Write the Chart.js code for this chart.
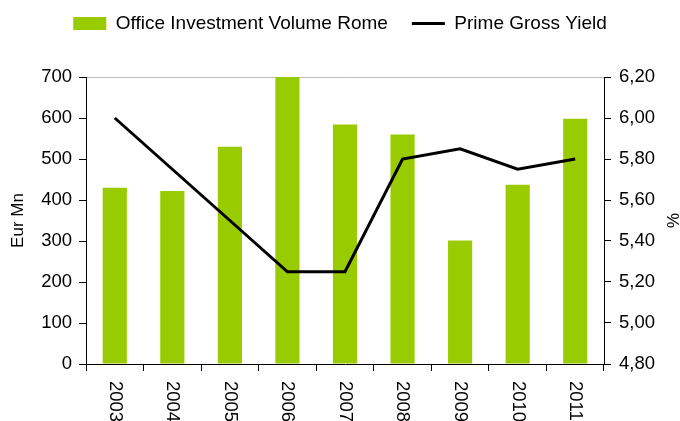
<!DOCTYPE html>
<html>
<head>
<meta charset="utf-8">
<script src="https://cdn.jsdelivr.net/npm/chart.js@4.4.1/dist/chart.umd.min.js"></script>
<style>
  html, body { margin: 0; padding: 0; background: #fff; }
  #wrap { width: 680px; height: 421px; }
</style>
</head>
<body>
<div id="wrap"><canvas id="myChart"></canvas></div>
<script>
const years = ["2003", "2004", "2005", "2006", "2007", "2008", "2009", "2010", "2011"];
const volume = [430, 422, 530, 700, 584, 560, 301, 437, 598];
const primeYield = [6.00, 5.75, 5.50, 5.25, 5.25, 5.80, 5.85, 5.75, 5.80];
const volumeTicks = [0, 100, 200, 300, 400, 500, 600, 700];
const yieldTicks = [4.8, 5.0, 5.2, 5.4, 5.6, 5.8, 6.0, 6.2];

const FONT = "'Liberation Sans', Arial, sans-serif";

// year labels hang below the axis, rotated to read top-down
const yearLabels = {
  id: "yearLabels",
  afterDraw(chart) {
    const ctx = chart.ctx;
    const xs = chart.scales.x;
    ctx.save();
    ctx.fillStyle = "#000";
    ctx.font = "18.5px " + FONT;
    ctx.textAlign = "left";
    ctx.textBaseline = "middle";
    years.forEach((label, i) => {
      ctx.save();
      ctx.translate(xs.getPixelForTick(i), chart.chartArea.bottom + 17);
      ctx.rotate(Math.PI / 2);
      ctx.fillText(label, 0, 0);
      ctx.restore();
    });
    ctx.restore();
  }
};

new Chart("myChart", {
  type: "bar",
  data: {
    labels: years,
    datasets: [
      {
        label: "Office Investment Volume Rome",
        data: volume,
        backgroundColor: "#99CC00",
        borderWidth: 0,
        barPercentage: 0.42,
        categoryPercentage: 1,
        yAxisID: "y",
      },
      {
        type: "line",
        label: "Prime Gross Yield",
        data: primeYield,
        borderColor: "#000",
        backgroundColor: "#000",
        borderWidth: 3,
        pointRadius: 0,
        tension: 0,
        yAxisID: "y1",
        order: -1,
      },
    ],
  },
  options: {
    responsive: true,
    maintainAspectRatio: false,
    animation: false,
    layout: { padding: { top: -10, left: 0, right: 0, bottom: 0 } },
    plugins: {
      tooltip: { enabled: false },
      legend: {
        position: "top",
        labels: {
          color: "#000",
          font: { family: FONT, size: 19 },
          usePointStyle: true,
          pointStyleWidth: 33,
          boxHeight: 13,
          padding: 24,
          sort: (a, b) => a.datasetIndex - b.datasetIndex,
          generateLabels(chart) {
            const items = Chart.defaults.plugins.legend.labels.generateLabels(chart);
            items.forEach(it => {
              it.pointStyle = it.datasetIndex === 0 ? "rect" : "line";
            });
            return items;
          },
        },
      },
    },
    scales: {
      x: {
        grid: {
          display: true,
          drawOnChartArea: false,
          tickLength: 7,
          tickColor: "#000",
        },
        border: { color: "#000", width: 1 },
        ticks: { display: false },
        afterFit(s) { s.height = 57; },
      },
      xTop: {
        type: "category",
        position: "top",
        grid: { display: false },
        border: { display: false },
        ticks: { display: false },
        afterFit(s) { s.height = 34; },
      },
      y: {
        position: "left",
        min: 0,
        max: 700,
        afterBuildTicks(s) { s.ticks = volumeTicks.map(v => ({ value: v })); },
        grid: {
          color: c => (c.tick && c.tick.value === 700 ? "#bdbdbd" : "rgba(0,0,0,0)"),
          tickColor: "#000",
          tickLength: 7,
        },
        border: { color: "#000", width: 1 },
        ticks: {
          color: "#000",
          font: { family: FONT, size: 18.5 },
          padding: 7,
        },
        title: {
          display: true,
          text: "Eur Mn",
          color: "#000",
          font: { family: FONT, size: 17, lineHeight: 1 },
          padding: { top: 10, bottom: 0 },
        },
        afterFit(s) { s.width = 86; },
      },
      y1: {
        position: "right",
        min: 4.8,
        max: 6.2,
        afterBuildTicks(s) { s.ticks = yieldTicks.map(v => ({ value: v })); },
        grid: {
          drawOnChartArea: false,
          tickColor: "#000",
          tickLength: 7,
        },
        border: { color: "#000", width: 1 },
        ticks: {
          color: "#000",
          font: { family: FONT, size: 18.5 },
          padding: 8,
          callback: v => v.toFixed(2).replace(".", ","),
        },
        title: {
          display: true,
          text: "%",
          color: "#000",
          font: { family: FONT, size: 17, lineHeight: 1 },
          padding: { top: 0, bottom: 0 },
        },
        afterFit(s) { s.width = 76; },
      },
    },
  },
  plugins: [yearLabels],
});
</script>
</body>
</html>
